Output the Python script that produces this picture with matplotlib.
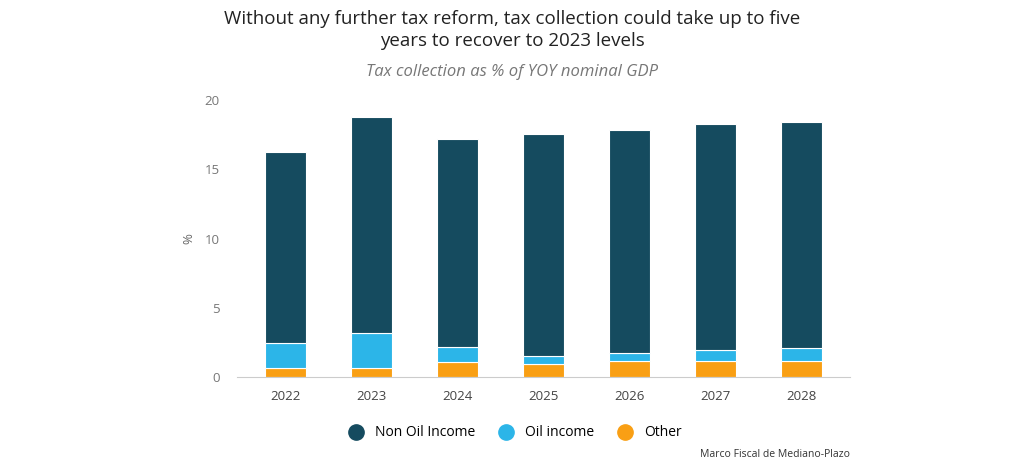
import matplotlib.pyplot as plt
from matplotlib.lines import Line2D

years = ["2022", "2023", "2024", "2025", "2026", "2027", "2028"]
other = [0.65, 0.67, 1.06, 0.94, 1.18, 1.18, 1.18]
oil = [1.82, 2.48, 1.08, 0.60, 0.53, 0.79, 0.89]
non_oil = [13.80, 15.60, 15.01, 15.98, 16.12, 16.30, 16.34]

c_non = "#154b5f"
c_oil = "#2cb5e8"
c_other = "#f99f14"

plt.rcParams['font.family'] = ['Open Sans', 'DejaVu Sans']

fig = plt.figure(figsize=(10.24, 4.65), dpi=100)
ax = fig.add_axes([0.231, 0.189, 0.599, 0.596])

x = list(range(len(years)))
w = 0.48
ax.bar(x, other, w, color=c_other, edgecolor="white", linewidth=0.8)
ax.bar(x, oil, w, bottom=other, color=c_oil, edgecolor="white", linewidth=0.8)
base = [a + b for a, b in zip(other, oil)]
ax.bar(x, non_oil, w, bottom=base, color=c_non, edgecolor="white", linewidth=0.8)

ax.set_xlim(-0.57, 6.56)
ax.set_ylim(0, 20)
ax.set_yticks([0, 5, 10, 15, 20])
ax.set_xticks(x)
ax.set_xticklabels(years)
ax.tick_params(length=0, labelsize=9.5, colors="#444444")
ax.tick_params(axis="y", pad=12, colors="#777777")
ax.tick_params(axis="x", pad=9)
for s in ["top", "right", "left"]:
    ax.spines[s].set_visible(False)
ax.spines["bottom"].set_color("#cccccc")
ax.set_ylabel("%", fontsize=9.5, color="#666666", labelpad=7)

fig.text(0.5, 0.978, "Without any further tax reform, tax collection could take up to five\nyears to recover to 2023 levels",
         ha="center", va="top", fontsize=13.5, color="#222222", linespacing=1.3)
fig.text(0.5, 0.845, "Tax collection as % of YOY nominal GDP", ha="center", va="center",
         fontsize=12, style="italic", color="#777777")

handles = [Line2D([], [], marker="o", linestyle="", markersize=11, color=c) for c in [c_non, c_oil, c_other]]
fig.legend(handles, ["Non Oil Income", "Oil income", "Other"], loc="center", bbox_to_anchor=(0.5, 0.069),
           ncol=3, frameon=False, fontsize=10, handletextpad=0.4, columnspacing=1.2)

fig.text(0.83, 0.022, "Marco Fiscal de Mediano-Plazo", ha="right", va="center", fontsize=7.5, color="#333333")

fig.savefig("out.png", dpi=100, facecolor="white")
